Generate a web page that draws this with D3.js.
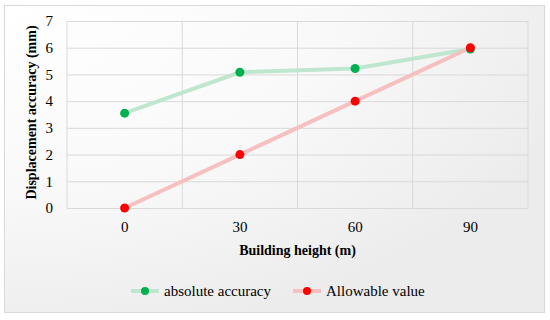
<!DOCTYPE html>
<html>
<head>
<meta charset="utf-8">
<script src="https://cdn.jsdelivr.net/npm/d3@7"></script>
<style>
  body { margin: 0; background: #fff; }
</style>
</head>
<body>
<div id="chart"></div>
<script>
const heights = ['0', '30', '60', '90'];
const absoluteAccuracy = [3.55, 5.08, 5.22, 5.95];
const allowableValue = [0, 2, 4, 6];
const yTicks = [0, 1, 2, 3, 4, 5, 6, 7];

const FONT = '"Liberation Serif", "DejaVu Serif", serif';
const W = 550, H = 320;
const margin = {top: 21, right: 22, bottom: 112, left: 67};
const width = W - margin.left - margin.right;
const height = 208 - margin.top;

const svg = d3.select('#chart').append('svg')
  .attr('width', W)
  .attr('height', H)
  .style('font-family', FONT);

const defs = svg.append('defs');
const grad = defs.append('radialGradient')
  .attr('id', 'bg')
  .attr('cx', '0%').attr('cy', '0%').attr('r', '110%');
grad.append('stop').attr('offset', '0%').attr('stop-color', '#ffffff');
grad.append('stop').attr('offset', '55%').attr('stop-color', '#f9f9f9');
grad.append('stop').attr('offset', '100%').attr('stop-color', '#ececec');

svg.append('rect')
  .attr('x', 4.5).attr('y', 5.5)
  .attr('width', 540).attr('height', 307)
  .attr('fill', 'url(#bg)')
  .attr('stroke', '#d9d9d9');

const g = svg.append('g')
  .attr('transform', 'translate(' + margin.left + ',' + margin.top + ')');

const x = d3.scaleBand()
  .domain(heights)
  .range([0, width])
  .padding(0);
const y = d3.scaleLinear()
  .domain([0, 7])
  .range([height, 0]);

// horizontal grid
g.append('g')
  .call(d3.axisLeft(y).tickValues(yTicks).tickSize(-width).tickFormat(''))
  .call(a => a.select('.domain').remove())
  .selectAll('line')
  .attr('stroke', '#d9d9d9');

// vertical grid at band edges
g.append('g')
  .selectAll('line')
  .data(heights.concat(['end']))
  .enter().append('line')
  .attr('x1', d => d === 'end' ? width : x(d))
  .attr('x2', d => d === 'end' ? width : x(d))
  .attr('y1', 0)
  .attr('y2', height)
  .attr('stroke', '#d9d9d9');

// y tick labels
g.append('g')
  .call(d3.axisLeft(y).tickValues(yTicks).tickFormat(d3.format('d')).tickSize(0).tickPadding(14))
  .call(a => a.select('.domain').remove())
  .selectAll('text')
  .style('font-family', FONT)
  .style('font-size', '15px');

// x tick labels
g.append('g')
  .attr('transform', 'translate(0,' + height + ')')
  .call(d3.axisBottom(x).tickSize(0).tickPadding(13))
  .call(a => a.select('.domain').remove())
  .selectAll('text')
  .style('font-family', FONT)
  .style('font-size', '15px');

const series = [
  {name: 'absolute accuracy', values: absoluteAccuracy, line: '#bfe6cf', dot: '#00b050'},
  {name: 'Allowable value', values: allowableValue, line: '#f7c0c0', dot: '#ff0000'}
];

const line = d3.line()
  .x((d, i) => x(heights[i]) + x.bandwidth() / 2)
  .y(d => y(d));

series.forEach(s => {
  g.append('path')
    .datum(s.values)
    .attr('fill', 'none')
    .attr('stroke', s.line)
    .attr('stroke-width', 4)
    .attr('d', line);
});
series.forEach(s => {
  g.selectAll(null)
    .data(s.values)
    .enter().append('circle')
    .attr('cx', (d, i) => x(heights[i]) + x.bandwidth() / 2)
    .attr('cy', d => y(d))
    .attr('r', 4.5)
    .attr('fill', s.dot);
});

svg.append('text')
  .text('Building height (m)')
  .attr('x', margin.left + width / 2)
  .attr('y', 255)
  .attr('text-anchor', 'middle')
  .style('font-family', FONT)
  .style('font-size', '14px')
  .style('font-weight', 'bold');

svg.append('g')
  .attr('transform', 'translate(36,' + (margin.top + height / 2 - 2) + ')')
  .append('text')
  .text('Displacement accuracy (mm)')
  .attr('text-anchor', 'middle')
  .attr('transform', 'rotate(-90)')
  .style('font-family', FONT)
  .style('font-size', '14px')
  .style('font-weight', 'bold');

// legend
const legendX = [131, 293];
series.forEach((s, i) => {
  const lg = svg.append('g').attr('transform', 'translate(' + legendX[i] + ',291)');
  lg.append('line')
    .attr('x1', 0).attr('x2', 28)
    .attr('stroke', s.line).attr('stroke-width', 4);
  lg.append('circle').attr('cx', 14).attr('r', 4).attr('fill', s.dot);
  lg.append('text')
    .text(s.name)
    .attr('x', 33)
    .attr('dy', '0.35em')
    .style('font-family', FONT)
    .style('font-size', '15px');
});
</script>
</body>
</html>
